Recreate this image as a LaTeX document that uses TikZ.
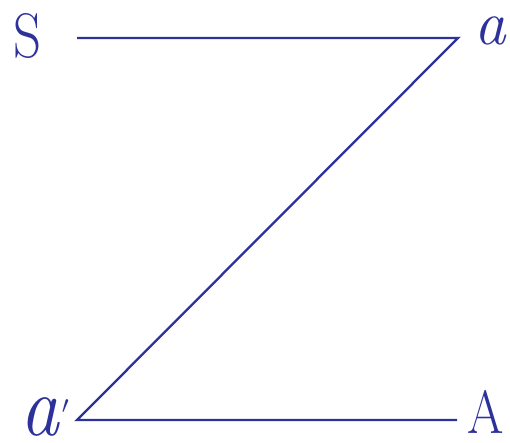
\documentclass[tikz,border=0pt]{standalone}
\definecolor{ink}{RGB}{45,50,155}
\begin{document}
\begin{tikzpicture}[x=1pt,y=-1pt,
  lab/.style={text=ink,inner sep=0pt,anchor=base},
  ln/.style={draw=ink,line width=2.3pt}]
\useasboundingbox (0,0) rectangle (510,443);
\node[lab] (S) at (28,58) {\scalebox{0.87}[1]{\fontsize{63}{63}\selectfont S}};
\node[lab,anchor=base west] (a) at (474,45) {\fontsize{63}{63}\selectfont\itshape a};
\node[lab,anchor=base west] (ap) at (20,435) {\scalebox{0.9}[1]{\fontsize{86}{86}\selectfont\itshape a}\kern3pt\raisebox{22pt}{\fontsize{44}{44}\selectfont$\prime$}};
\node[lab] (A) at (486,433) {\scalebox{0.86}[1]{\fontsize{61}{61}\selectfont A}};
\coordinate (p1) at (77,38);
\coordinate (p2) at (458,38);
\coordinate (p3) at (77,420);
\coordinate (p4) at (457,420);
\draw[ln,line join=miter] (p1) -- (p2) -- (p3) -- (p4);
\end{tikzpicture}
\end{document}
